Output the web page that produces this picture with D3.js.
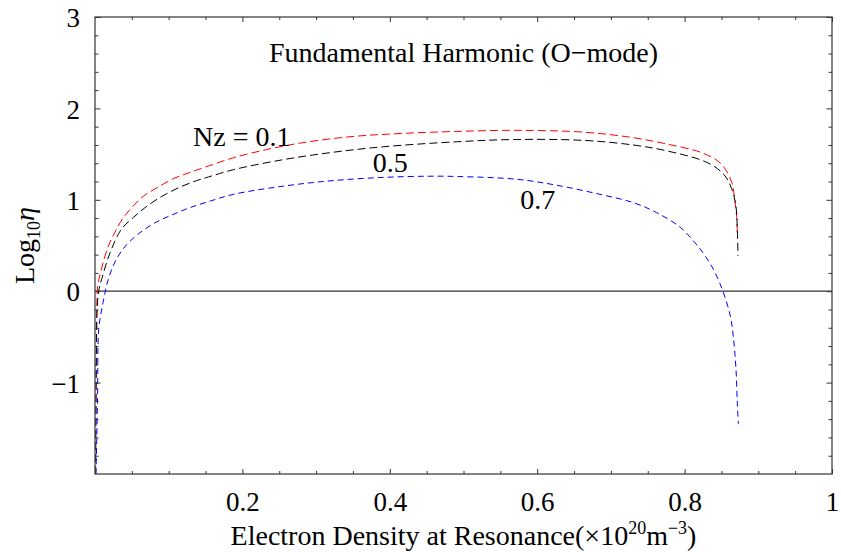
<!DOCTYPE html>
<html>
<head>
<meta charset="utf-8">
<script src="https://cdn.jsdelivr.net/npm/d3@7"></script>
<style>
body { margin: 0; background: #fff; }
text { font-family: "Liberation Serif", "Times New Roman", Times, "DejaVu Serif", serif; fill: #000; }
</style>
</head>
<body>
<main></main>
<script>
var width = 841;
var height = 554;
var margin = {left: 95, right: 9, top: 17, bottom: 80};

// Nz = 0.1 (red)
var redX = [0.0007, 0.0018, 0.0027, 0.004, 0.008, 0.0136, 0.02, 0.027, 0.0385, 0.052, 0.0656, 0.0837, 0.106, 0.129, 0.154, 0.188, 0.233, 0.278, 0.346, 0.414, 0.49, 0.572, 0.663, 0.73, 0.776, 0.825, 0.85, 0.864, 0.868, 0.8706, 0.8715];
var redY = [-2.0, -0.63, -0.09, 0.08, 0.22, 0.386, 0.53, 0.645, 0.806, 0.933, 1.04, 1.13, 1.23, 1.30, 1.37, 1.46, 1.55, 1.62, 1.69, 1.725, 1.748, 1.76, 1.74, 1.68, 1.61, 1.51, 1.39, 1.19, 1.0, 0.82, 0.64];
// Nz = 0.5 (black)
var blackX = [0.0008, 0.0019, 0.0032, 0.005, 0.009, 0.0204, 0.036, 0.052, 0.068, 0.088, 0.113, 0.138, 0.154, 0.188, 0.256, 0.323, 0.391, 0.491, 0.572, 0.663, 0.73, 0.776, 0.83, 0.853, 0.864, 0.8697, 0.8715, 0.8725];
var blackY = [-2.0, -0.7, -0.15, 0.0, 0.13, 0.42, 0.68, 0.806, 0.915, 1.025, 1.13, 1.21, 1.25, 1.33, 1.44, 1.52, 1.58, 1.635, 1.66, 1.65, 1.60, 1.535, 1.41, 1.28, 1.12, 0.93, 0.68, 0.386];
// Nz = 0.7 (blue)
var blueX = [0.0014, 0.0034, 0.005, 0.008, 0.011, 0.018, 0.029, 0.043, 0.061, 0.084, 0.106, 0.129, 0.154, 0.188, 0.256, 0.323, 0.391, 0.45, 0.491, 0.572, 0.626, 0.685, 0.73, 0.762, 0.794, 0.812, 0.825, 0.839, 0.852, 0.862, 0.866, 0.8697, 0.8715, 0.873];
var blueY = [-2.0, -1.18, -0.42, -0.25, -0.12, 0.13, 0.35, 0.51, 0.64, 0.76, 0.84, 0.915, 0.98, 1.06, 1.15, 1.21, 1.245, 1.258, 1.255, 1.225, 1.16, 1.06, 0.97, 0.86, 0.70, 0.55, 0.42, 0.24, 0.0, -0.27, -0.49, -0.85, -1.22, -1.455];

var xMajor = [0.2, 0.4, 0.6, 0.8, 1];
var yMajor = [-1, 0, 1, 2, 3];
var xMinor = [0.05, 0.1, 0.15, 0.25, 0.3, 0.35, 0.45, 0.5, 0.55, 0.65, 0.7, 0.75, 0.85, 0.9, 0.95];
var yMinor = [-1.8, -1.6, -1.4, -1.2, -0.8, -0.6, -0.4, -0.2, 0.2, 0.4, 0.6, 0.8, 1.2, 1.4, 1.6, 1.8, 2.2, 2.4, 2.6, 2.8];

var series = [
  {name: 'Nz = 0.1', xs: redX, ys: redY, color: '#ff0000', dash: '8,4'},
  {name: '0.5', xs: blackX, ys: blackY, color: '#000000', dash: '8,4'},
  {name: '0.7', xs: blueX, ys: blueY, color: '#0000ff', dash: '6,4'}
];

var x = d3.scaleLinear().domain([0, 1]).range([margin.left, width - margin.right]);
var y = d3.scaleLinear().domain([-2, 3]).range([height - margin.bottom, margin.top]);

var svg = d3.select('main').append('svg')
  .attr('width', width)
  .attr('height', height);

svg.append('rect')
  .attr('width', width)
  .attr('height', height)
  .attr('fill', '#fff');

svg.append('clipPath').attr('id', 'plot')
  .append('rect')
  .attr('x', x(0))
  .attr('y', y(3))
  .attr('width', x(1) - x(0))
  .attr('height', y(-2) - y(3));

// zero line
svg.append('line')
  .attr('x1', x(0)).attr('x2', x(1))
  .attr('y1', y(0)).attr('y2', y(0))
  .attr('stroke', '#333')
  .attr('stroke-width', 1.2);

var line = d3.line()
  .x(function(d) { return x(d[0]); })
  .y(function(d) { return y(d[1]); })
  .curve(d3.curveCatmullRom.alpha(0.5));

series.forEach(function(s) {
  var pts = s.xs.map(function(v, i) { return [v, s.ys[i]]; });
  svg.append('path')
    .attr('d', line(pts))
    .attr('fill', 'none')
    .attr('stroke', s.color)
    .attr('stroke-width', 1)
    .attr('stroke-dasharray', s.dash)
    .attr('clip-path', 'url(#plot)');
});

// frame
svg.append('rect')
  .attr('x', x(0))
  .attr('y', y(3))
  .attr('width', x(1) - x(0))
  .attr('height', y(-2) - y(3))
  .attr('fill', 'none')
  .attr('stroke', '#444')
  .attr('stroke-width', 1.3);

function addAxis(axis, tx, ty) {
  var g = svg.append('g')
    .attr('transform', 'translate(' + tx + ',' + ty + ')')
    .call(axis);
  g.attr('font-family', null).attr('font-size', null);
  g.select('.domain').remove();
  g.selectAll('line').attr('stroke', '#333');
  g.selectAll('text').attr('font-size', 27).attr('fill', '#000');
  return g;
}

var bottomY = y(-2), topY = y(3), leftX = x(0), rightX = x(1);

addAxis(d3.axisBottom(x).tickValues(xMinor).tickSizeInner(-3).tickSizeOuter(0).tickFormat(''), 0, bottomY);
addAxis(d3.axisBottom(x).tickValues(xMajor).tickSizeInner(-5).tickSizeOuter(0).tickPadding(18).tickFormat(d3.format('')), 0, bottomY);
addAxis(d3.axisTop(x).tickValues(xMinor).tickSizeInner(-3).tickSizeOuter(0).tickFormat(''), 0, topY);
addAxis(d3.axisTop(x).tickValues(xMajor).tickSizeInner(-5).tickSizeOuter(0).tickFormat(''), 0, topY);

addAxis(d3.axisLeft(y).tickValues(yMinor).tickSizeInner(-3.5).tickSizeOuter(0).tickFormat(''), leftX, 0);
addAxis(d3.axisLeft(y).tickValues(yMajor).tickSizeInner(-5.5).tickSizeOuter(0).tickPadding(15).tickFormat(d3.format('')), leftX, 0)
  .selectAll('text').attr('dy', '0.36em');
addAxis(d3.axisRight(y).tickValues(yMinor).tickSizeInner(-3.5).tickSizeOuter(0).tickFormat(''), rightX, 0);
addAxis(d3.axisRight(y).tickValues(yMajor).tickSizeInner(-5.5).tickSizeOuter(0).tickFormat(''), rightX, 0);

// title
svg.append('text')
  .attr('x', x(0.5))
  .attr('y', y(2.505))
  .attr('text-anchor', 'middle')
  .attr('font-size', 28)
  .text('Fundamental Harmonic (O\u2212mode)');

// curve labels
var labelPos = [[0.133, 1.586], [0.377, 1.30], [0.577, 0.897]];
series.forEach(function(s, i) {
  svg.append('text')
    .attr('x', x(labelPos[i][0]))
    .attr('y', y(labelPos[i][1]))
    .attr('font-size', 28)
    .text(s.name);
});

// x label
var xl = svg.append('text')
  .attr('x', x(0.5))
  .attr('y', 545)
  .attr('text-anchor', 'middle')
  .attr('font-size', 28);
xl.append('tspan').text('Electron Density at Resonance(\u00d710');
xl.append('tspan').attr('font-size', 18).attr('dy', -11).text('20');
xl.append('tspan').attr('dy', 11).text('m');
xl.append('tspan').attr('font-size', 18).attr('dy', -11).text('\u22123');
xl.append('tspan').attr('dy', 11).text(')');

// y label
var yl = svg.append('text')
  .attr('transform', 'translate(34,' + ((topY + bottomY) / 2) + ') rotate(-90)')
  .attr('text-anchor', 'middle')
  .attr('font-size', 28);
yl.append('tspan').text('Log');
yl.append('tspan').attr('font-size', 18).attr('dy', 6).text('10');
yl.append('tspan').attr('dy', -6).attr('font-style', 'italic').text('\u03b7');
</script>
</body>
</html>
